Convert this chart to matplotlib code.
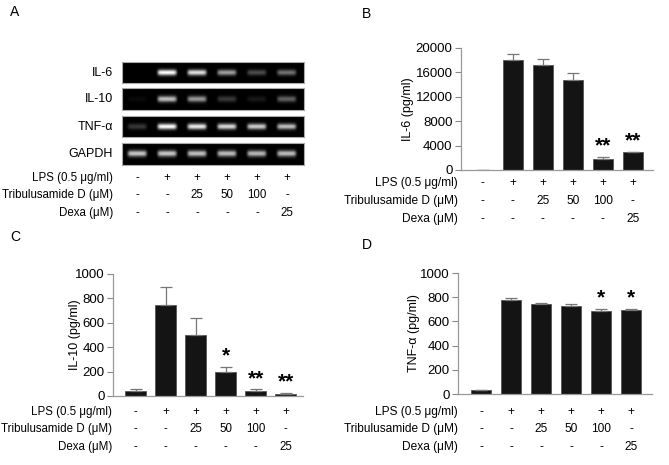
import numpy as np
import matplotlib
matplotlib.use("Agg")
import matplotlib.pyplot as plt
from matplotlib.transforms import blended_transform_factory

plt.rcParams['font.family'] = ['Liberation Sans', 'DejaVu Sans']

# treatment table (same for every panel)
row_names = ["LPS (0.5 \u03bcg/ml)", "Tribulusamide D (\u03bcM)", "Dexa (\u03bcM)"]
lps = ["-", "+", "+", "+", "+", "+"]
trib = ["-", "-", "25", "50", "100", "-"]
dexa = ["-", "-", "-", "-", "-", "25"]

# gel band intensities (0..1)
gel_names = ["IL-6", "IL-10", "TNF-\u03b1", "GAPDH"]
il6_band = [0.0, 1.0, 0.88, 0.62, 0.3, 0.45]
il10_band = [0.04, 0.75, 0.6, 0.22, 0.1, 0.38]
tnf_band = [0.22, 1.0, 0.92, 0.85, 0.8, 0.75]
gapdh_band = [0.78, 0.78, 0.76, 0.74, 0.72, 0.74]

# ELISA values
il6_mean = [0, 17980, 17170, 14710, 1800, 2890]
il6_err = [0, 1090, 980, 1140, 380, 110]
il6_sig = ["", "", "", "", "**", "**"]

il10_mean = [38, 742, 500, 198, 44, 19]
il10_err = [22, 151, 137, 41, 11, 8]
il10_sig = ["", "", "", "*", "**", "**"]

tnf_mean = [30, 775, 740, 731, 690, 696]
tnf_err = [3, 17, 13, 14, 14, 8]
tnf_sig = ["", "", "", "", "*", "*"]

W, H = 669, 465
fig = plt.figure(figsize=(W / 100, H / 100), dpi=100)


def rect(l, t, r, b):
    return [l / W, 1 - b / H, (r - l) / W, (b - t) / H]


def table(ax, label_x, ys, fs=8.6):
    tr = blended_transform_factory(ax.transData, fig.transFigure)
    for name, vals, y in zip(row_names, [lps, trib, dexa], ys):
        fig.text(label_x / W, 1 - y / H, name, ha="right", va="center", fontsize=fs)
        for i, v in enumerate(vals):
            ax.text(i, 1 - y / H, v, transform=tr, ha="center", va="center",
                    fontsize=fs, clip_on=False)


def bars(ax, mean, err, sig, ymax, yticks, ylabel, ylabel_x):
    x = np.arange(len(mean))
    lw = [0.6 if m > 0 else 0 for m in mean]
    ax.bar(x, mean, width=0.68, color="#141414", edgecolor="#555555", linewidth=lw)
    ax.errorbar(x, mean, yerr=[np.zeros(len(err)), err], fmt="none",
                ecolor="#777777", elinewidth=0.9, capsize=4, capthick=0.9)
    for i, s in enumerate(sig):
        if s:
            ax.text(i, mean[i] + err[i] + ymax * 0.01, s, ha="center", va="bottom",
                    fontsize=15, fontweight="bold")
    ax.set_ylim(0, ymax)
    ax.set_yticks(yticks)
    ax.tick_params(axis="y", labelsize=9.5, length=4, color="#888888", pad=2)
    ax.set_xticks([])
    for s in ["top", "right"]:
        ax.spines[s].set_visible(False)
    for s in ["left", "bottom"]:
        ax.spines[s].set_color("#999999")
        ax.spines[s].set_linewidth(0.9)
    pos = ax.get_position()
    fig.text(ylabel_x / W, (pos.y0 + pos.y1) / 2, ylabel, rotation=90,
             ha="center", va="center", fontsize=9)


# ---- panel A: gel
gel_rows = [(62, 83), (88, 110), (116, 137), (143, 165)]
gel_vals = [il6_band, il10_band, tnf_band, gapdh_band]
first_gel = None
for (t, b), name, vals in zip(gel_rows, gel_names, gel_vals):
    ax = fig.add_axes(rect(122, t, 304, b))
    nx, ny = 300, 40
    xs = np.linspace(-0.5, 5.57, nx)
    ys = np.linspace(0, 1, ny)
    img = np.zeros((ny, nx))
    for i, v in enumerate(vals):
        px = np.exp(-((xs - i) / 0.32) ** 8)
        py = np.exp(-((ys - 0.5) / 0.14) ** 2)
        img += v * np.outer(py, px)
    ax.imshow(img, cmap="gray", vmin=0, vmax=1, aspect="auto",
              extent=[-0.5, 5.57, 0, 1], interpolation="bilinear")
    ax.set_xlim(-0.5, 5.57)
    ax.set_xticks([])
    ax.set_yticks([])
    for s in ax.spines.values():
        s.set_color("#aaaaaa")
        s.set_linewidth(0.8)
    fig.text(113 / W, 1 - (t + b) / 2 / H, name, ha="right", va="center", fontsize=9)
    first_gel = ax
table(first_gel, 113, [178, 195, 213], fs=8.3)
fig.text(10 / W, 1 - 12 / H, "A", fontsize=10, va="center")

# ---- panel B
axB = fig.add_axes(rect(461, 48, 653, 170))
axB.set_xlim(-0.73, 5.67)
bars(axB, il6_mean, il6_err, il6_sig, 20000, [0, 4000, 8000, 12000, 16000, 20000],
     "IL-6 (pg/ml)", 408)
table(axB, 458, [183, 201, 219])
fig.text(362 / W, 1 - 14 / H, "B", fontsize=10, va="center")

# ---- panel C
axC = fig.add_axes(rect(113, 274, 303, 396))
axC.set_xlim(-0.75, 5.58)
bars(axC, il10_mean, il10_err, il10_sig, 1000, [0, 200, 400, 600, 800, 1000],
     "IL-10 (pg/ml)", 75)
table(axC, 112, [412, 429, 447], fs=8.3)
fig.text(10 / W, 1 - 237 / H, "C", fontsize=10, va="center")

# ---- panel D
axD = fig.add_axes(rect(458, 273, 652, 394))
axD.set_xlim(-0.77, 5.7)
bars(axD, tnf_mean, tnf_err, tnf_sig, 1000, [0, 200, 400, 600, 800, 1000],
     "TNF-\u03b1 (pg/ml)", 414)
table(axD, 458, [412, 429, 447])
fig.text(362 / W, 1 - 245 / H, "D", fontsize=10, va="center")

fig.savefig("out.png", dpi=100)
